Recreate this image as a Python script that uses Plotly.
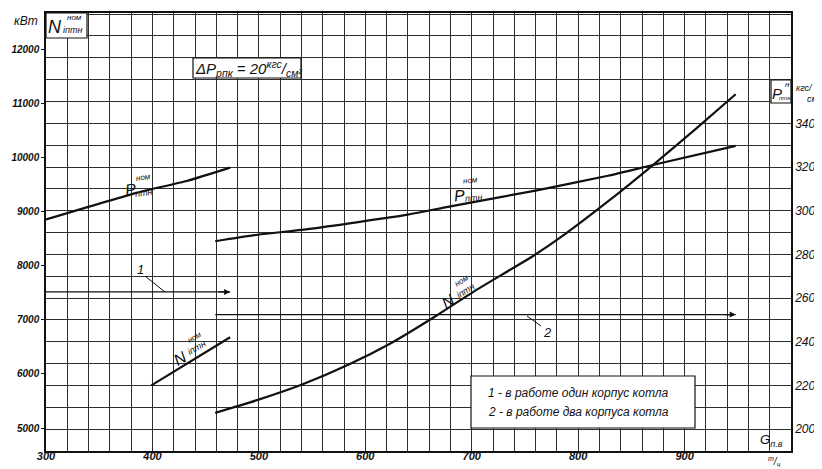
import plotly.graph_objects as go

# ---------------- data ----------------
# P_птн^ном (right axis, кгс/см²) vs G_п.в (т/ч)
G_P1 = [300, 386, 433, 473]
P1 = [296.0, 308.3, 313.7, 319.7]
G_P2 = [459, 499, 546, 640, 680, 760, 828, 875, 948]
P2 = [286.0, 289.0, 291.6, 298.2, 302.0, 309.2, 316.0, 321.5, 329.7]

# N_iптн^ном (left axis, кВт) vs G_п.в (т/ч)
G_N1 = [399, 473]
N1 = [5790, 6680]
G_N2 = [459, 499, 540, 584, 624, 666, 703, 758, 788, 828, 866, 910, 948]
N2 = [5280, 5520, 5800, 6170, 6570, 7070, 7540, 8190, 8595, 9195, 9800, 10530, 11180]

# operating ranges (1 - one boiler body, 2 - two boiler bodies)
G_mode1 = [300, 473]
N_mode1 = [7520, 7520]
G_mode2 = [459, 948]
N_mode2 = [7100, 7100]

x_ticks = [300, 400, 500, 600, 700, 800, 900]
left_ticks = [5000, 6000, 7000, 8000, 9000, 10000, 11000, 12000]
left_labels = ["5000", "6000", "7000", "8000", "9000", "10000", "11000", "12000"]
right_ticks = [200, 220, 240, 260, 280, 300, 320, 340]
right_labels = ["200", "220", "240", "260", "280", "300", "320", "340"]

legend_lines = ["1 - в работе один корпус котла", "2 - в работе два корпуса котла"]

# ---------------- layout helpers ----------------
W, H = 822, 469
L, R, T, B = 38, 39, 5, 26
PW, PH = W - L - R, H - T - B


def px(x):
    return (x - L) / PW


def py(y):
    return (H - B - y) / PH


FONT = "Liberation Sans, DejaVu Sans, sans-serif"
TXT = "Liberation Sans, DejaVu Sans, sans-serif"
INK = "#111111"
GRID = "#2e2e2e"

fig = go.Figure()

line_style = dict(color=INK, width=2.2)
fig.add_trace(go.Scatter(x=G_P1, y=P1, mode="lines", line=dict(shape="spline", smoothing=0.6, **line_style), yaxis="y2"))
fig.add_trace(go.Scatter(x=G_P2, y=P2, mode="lines", line=dict(shape="spline", smoothing=0.6, **line_style), yaxis="y2"))
fig.add_trace(go.Scatter(x=G_N1, y=N1, mode="lines", line=dict(**line_style)))
fig.add_trace(go.Scatter(x=G_N2, y=N2, mode="lines", line=dict(shape="spline", smoothing=0.6, **line_style)))
fig.add_trace(go.Scatter(x=G_mode1, y=N_mode1, mode="lines", line=dict(color=INK, width=1.3)))
fig.add_trace(go.Scatter(x=G_mode2, y=N_mode2, mode="lines", line=dict(color=INK, width=1.3)))

ann = []
# arrowheads on range lines
for gx, ny in ((G_mode1, N_mode1), (G_mode2, N_mode2)):
    ann.append(dict(x=gx[-1], y=ny[-1], xref="x", yref="y", ax=gx[-1] - 12, ay=ny[-1],
                    axref="x", ayref="y", showarrow=True, arrowhead=2, arrowsize=1,
                    arrowwidth=1.2, arrowcolor=INK, text=""))


def t(x, y, text, size=12, angle=0, xa="center", ya="middle", family=TXT):
    ann.append(dict(x=px(x), y=py(y), xref="paper", yref="paper", text=text, showarrow=False,
                    textangle=angle, xanchor=xa, yanchor=ya,
                    font=dict(family=family, size=size, color=INK, style="italic")))


# axis captions
t(18, 13, "кВт", 12)
t(47, 19, "N", 18)
t(64, 22, "iптн", 9)
t(66, 9, "ном", 8)
t(769, 85, "P", 15)
t(777, 90, "птн", 6)
t(779, 76, "н", 8)
t(786, 80, "кгс/", 9, xa="left")
t(797, 91, "см²", 9, xa="left")
t(763, 432, "G<sub>п.в</sub>", 13)
t(766, 453, "<sup>т</sup>/<sub>ч</sub>", 10)

# ΔP
t(240, 60, "ΔP<sub>рпк</sub> = 20<sup>кгс</sup>/<sub>см²</sub>", 15)

# curve labels
t(122, 181, "P", 16, -8)
t(135, 185, "птн", 9, -8)
t(135, 170, "ном", 8, -8)
t(451, 187, "P", 16, -5)
t(465, 190, "птн", 9, -5)
t(462, 172, "ном", 8, -5)
t(440, 293, "N", 16, -32)
t(457, 283, "iптн", 9, -32)
t(454, 272, "ном", 8, -32)
t(172, 350, "N", 16, -30)
t(188, 340, "iптн", 9, -30)
t(186, 329, "ном", 8, -30)

# range markers
t(132, 261, "1", 13)
t(539, 324, "2", 13)

# legend box text
t(478, 385, legend_lines[0], 12, xa="left")
t(478, 404, legend_lines[1], 12, xa="left")

shapes = []


def rect(x0, y0, x1, y1):
    shapes.append(dict(type="rect", xref="paper", yref="paper", x0=px(x0), x1=px(x1),
                       y0=py(y1), y1=py(y0), line=dict(color=INK, width=1.2),
                       fillcolor="white", layer="above"))


def seg(x0, y0, x1, y1, w=1):
    shapes.append(dict(type="line", xref="paper", yref="paper", x0=px(x0), x1=px(x1),
                       y0=py(y0), y1=py(y1), line=dict(color=INK, width=w)))


rect(38, 5, 79, 30)
rect(185, 50, 293, 70)
rect(763, 72, 783, 95)
rect(463, 368, 687, 420)
seg(137, 268, 157, 284)
seg(519, 308, 533, 318)

fig.update_layout(
    template="none",
    width=W, height=H,
    margin=dict(l=L, r=R, t=T, b=B, autoexpand=False),
    paper_bgcolor="white", plot_bgcolor="white",
    showlegend=False,
    annotations=ann, shapes=shapes,
    xaxis=dict(range=[300, 1000], tickvals=x_ticks, ticktext=[str(v) for v in x_ticks],
               automargin=False, showgrid=True, gridcolor=GRID, gridwidth=1,
               minor=dict(dtick=20, tick0=300, showgrid=True, gridcolor=GRID, gridwidth=1),
               showline=True, linecolor=INK, linewidth=1.5, mirror=True,
               ticks="", zeroline=False, ticklabelstandoff=-6,
               tickfont=dict(family=FONT, size=11, color=INK, style="italic", weight="bold")),
    yaxis=dict(range=[4574, 12685], tickvals=left_ticks, ticktext=left_labels, automargin=False,
               showgrid=False, zeroline=False,
               showline=True, linecolor=INK, linewidth=1.5, ticks="outside", ticklen=3,
               tickcolor=INK,
               tickfont=dict(family=FONT, size=10, color=INK, style="italic", weight="bold")),
    yaxis2=dict(range=[190, 390.5], overlaying="y", side="right", tickvals=right_ticks,
                ticktext=right_labels, automargin=False,
                showgrid=True, gridcolor=GRID, gridwidth=1,
                minor=dict(dtick=10, tick0=190, showgrid=True, gridcolor=GRID, gridwidth=1),
                zeroline=False, showline=True, linecolor=INK, linewidth=1.5, ticks="",
                tickfont=dict(family=FONT, size=12, color=INK, style="italic")),
)

fig.write_html("out.html")
